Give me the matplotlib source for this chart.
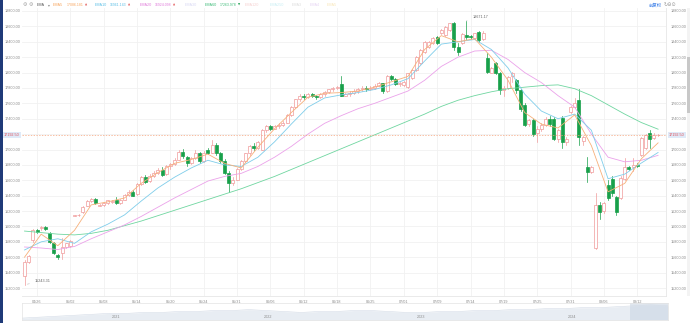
import matplotlib.pyplot as plt
from matplotlib.patches import Rectangle

plt.rcParams['font.family'] = ['Liberation Sans', 'DejaVu Sans', 'Noto Sans CJK SC']

W, H = 691, 323

# candle data, one entry per bar
opens = [15355, 15537, 15823, 15950, 15975, 15990, 15914, 15785, 15630, 15655,
         15733, 15740, 16140, 16150, 16185, 16265, 16330, 16355, 16270, 16280,
         16300, 16320, 16350, 16300, 16350, 16410, 16450, 16420, 16550, 16640,
         16590, 16660, 16700, 16740, 16680, 16790, 16810, 16870, 16970, 16900,
         16830, 16890, 16960, 16850, 16990, 16960, 17060, 16950, 16850, 16700,
         16560, 16610, 16750, 16850, 16950, 17050, 17020, 17000, 17250, 17300,
         17270, 17300, 17320, 17350, 17450, 17550, 17650, 17700, 17680, 17720,
         17700, 17680, 17720, 17750, 17780, 17800, 17850, 17700, 17720, 17740,
         17760, 17780, 17800, 17780, 17800, 17830, 17860, 17760, 17950, 17920,
         17850, 17838, 17812, 17930, 18033, 18124, 18267, 18332, 18384, 18462,
         18514, 18488, 18553, 18644, 18332, 18384, 18488, 18470, 18450, 18527,
         18430, 18190, 18000, 18124, 17994, 17773, 17800, 17950, 17900, 17770,
         17580, 17330, 17380, 17220, 17260, 17320, 17400, 17400, 17130, 17409,
         17097, 17487, 17550, 17643, 17110, 16772, 16707, 15719, 16278, 16200,
         16540, 16615, 16385, 16370, 16615, 16772, 16770, 16800, 16930, 17020,
         17215, 17150, 17190]
highs = [15560, 15630, 15970, 15965, 16010, 16000, 15930, 15800, 15640, 15850,
         15790, 15820, 16150, 16160, 16260, 16340, 16370, 16370, 16290, 16320,
         16345, 16340, 16380, 16360, 16420, 16470, 16480, 16560, 16660, 16670,
         16680, 16720, 16760, 16770, 16800, 16830, 16890, 16990, 17010, 16920,
         16900, 16990, 16970, 16980, 17020, 17120, 17080, 16970, 16880, 16720,
         16640, 16760, 16860, 16960, 17060, 17090, 17110, 17270, 17320, 17320,
         17320, 17340, 17370, 17460, 17560, 17660, 17720, 17720, 17740, 17730,
         17710, 17730, 17760, 17790, 17810, 17820, 17950, 17740, 17760, 17780,
         17800, 17820, 17820, 17820, 17850, 17880, 17870, 17970, 17970, 17930,
         17880, 17890, 18000, 18050, 18215, 18300, 18410, 18410, 18460, 18480,
         18570, 18600, 18650, 18660, 18384, 18520, 18671.17, 18490, 18520, 18540,
         18540, 18260, 18070, 18140, 18010, 17820, 17960, 18010, 17920, 17790,
         17600, 17400, 17400, 17300, 17340, 17420, 17430, 17420, 17260, 17430,
         17160, 17560, 17669, 17786, 17180, 16902, 16790, 16434, 16317, 16320,
         16600, 16650, 16400, 16650, 16889, 16790, 16889, 16820, 17160, 17200,
         17253, 17210, 17200]
lows = [15243.31, 15520, 15800, 15910, 15960, 15950, 15780, 15640, 15580, 15580,
        15720, 15730, 16130, 16140, 16180, 16260, 16320, 16290, 16260, 16270,
        16290, 16310, 16290, 16290, 16340, 16400, 16390, 16410, 16540, 16560,
        16580, 16640, 16680, 16650, 16670, 16750, 16800, 16860, 16890, 16790,
        16810, 16880, 16830, 16840, 16940, 16950, 16930, 16830, 16680, 16450,
        16540, 16600, 16740, 16840, 16930, 16990, 17010, 16990, 17230, 17250,
        17260, 17280, 17300, 17340, 17440, 17540, 17630, 17660, 17670, 17680,
        17660, 17670, 17700, 17730, 17760, 17780, 17690, 17690, 17700, 17720,
        17740, 17760, 17760, 17770, 17790, 17820, 17740, 17750, 17900, 17840,
        17830, 17820, 17800, 17920, 18020, 18110, 18250, 18320, 18370, 18370,
        18500, 18470, 18540, 18293, 18228, 18370, 18440, 18440, 18440, 18400,
        18420, 17990, 17990, 17980, 17720, 17700, 17790, 17880, 17740, 17500,
        17300, 17300, 17180, 17100, 17240, 17310, 17300, 17120, 17100, 17020,
        17060, 17470, 17540, 17058, 17058, 16577, 16690, 15706, 16096, 16180,
        16340, 16400, 16150, 16360, 16600, 16730, 16720, 16770, 16920, 17010,
        17019, 17130, 17170]
closes = [15537, 15615, 15953, 15925, 15990, 15965, 15797, 15655, 15600, 15733,
          15785, 15810, 16150, 16150, 16250, 16330, 16355, 16300, 16280, 16310,
          16340, 16330, 16300, 16350, 16410, 16450, 16400, 16550, 16640, 16580,
          16660, 16700, 16740, 16670, 16790, 16810, 16870, 16970, 16910, 16820,
          16890, 16960, 16850, 16960, 16960, 17060, 16950, 16850, 16700, 16560,
          16610, 16750, 16850, 16950, 17050, 17020, 17100, 17250, 17300, 17270,
          17300, 17320, 17350, 17450, 17550, 17650, 17700, 17680, 17720, 17700,
          17680, 17720, 17750, 17780, 17800, 17810, 17700, 17720, 17740, 17760,
          17780, 17800, 17780, 17800, 17830, 17860, 17760, 17950, 17920, 17850,
          17870, 17877, 17994, 18033, 18202, 18293, 18397, 18397, 18449, 18384,
          18553, 18592, 18644, 18332, 18267, 18501, 18462, 18460, 18510, 18423,
          18520, 18007, 18060, 17994, 17773, 17800, 17940, 17990, 17770, 17520,
          17320, 17380, 17200, 17260, 17320, 17400, 17330, 17130, 17250, 17097,
          17136, 17550, 17600, 17162, 17162, 16707, 16772, 16278, 16187, 16300,
          16370, 16430, 16187, 16630, 16770, 16745, 16800, 16785, 17150, 17190,
          17135, 17190, 17192.50]

# moving averages, read every 4th bar
ema_idx = list(range(0, 153, 4))
ema5 = [15600, 15900, 15750, 15950, 16280, 16320, 16370, 16560, 16700, 16820,
        16870, 16940, 16820, 16760, 17030, 17270, 17480, 17680, 17730, 17740,
        17760, 17810, 17880, 17950, 18300, 18480, 18400, 18440, 18200, 17900,
        17480, 17330, 17280, 17450, 17050, 16450, 16560, 16880, 17086.181]
ema10 = [15694, 15800, 15840, 15780, 15930, 16030, 16150, 16330, 16500, 16640,
         16760, 16860, 16800, 16780, 16900, 17100, 17330, 17550, 17670, 17710,
         17740, 17780, 17840, 17920, 18150, 18370, 18400, 18430, 18300, 18060,
         17720, 17500, 17400, 17460, 17250, 16620, 16680, 16825, 16961.143]
ema20 = [15733, 15720, 15700, 15740, 15840, 15930, 16020, 16130, 16250, 16370,
         16480, 16590, 16650, 16690, 16780, 16900, 17040, 17200, 17340, 17440,
         17530, 17600, 17680, 17760, 17900, 18080, 18200, 18280, 18290, 18170,
         18000, 17870, 17700, 17550, 17200, 16900, 16840, 16860, 16924.098]
ema60 = [15940, 15920, 15900, 15890, 15910, 15950, 16010, 16070, 16140, 16210,
         16280, 16350, 16420, 16490, 16570, 16650, 16740, 16830, 16920, 17010,
         17100, 17190, 17280, 17370, 17460, 17560, 17640, 17700, 17750, 17790,
         17810, 17830, 17840, 17790, 17700, 17580, 17460, 17350, 17263.978]

date_labels = ['04/26', '05/02', '05/08', '05/14', '05/20', '05/24', '05/31', '06/06', '06/12', '06/18',
               '06/25', '07/01', '07/09', '07/14', '07/19', '07/25', '07/31', '08/06', '08/12']
price_ticks = list(range(15200, 18801, 200))
last_price = closes[-1]
high_val, low_val = max(highs), min(lows)

# long history for the navigator strip
nav_hist = [2, 3, 4, 5, 6, 7, 7, 8, 8, 9, 9, 10, 10, 11, 10, 9, 8, 9, 9, 10, 10, 9, 8, 8, 9, 9, 10, 10, 11, 11, 12, 12, 13, 13, 14, 15, 16, 15]
year_labels = ['2021', '2022', '2023', '2024']
year_x = [116, 268, 421, 572]

up_col = '#f09a9a'
down_col = '#18a04a'
lab_col = '#8a8a8a'
fs = 2.7


def px_box(x0, y0, x1, y1):
    return [x0 / W, 1 - y1 / H, (x1 - x0) / W, (y1 - y0) / H]


fig = plt.figure(figsize=(W / 100, H / 100), dpi=100)
fig.patch.set_facecolor('white')

ax = fig.add_axes(px_box(22, 8, 666, 296))
ax.set_xlim(-0.6, 153.9)
ax.set_ylim(15200 - 8 * 200 / 15.39, 18800 + 3 * 200 / 15.39)

for s in ['top', 'left']:
    ax.spines[s].set_visible(False)
for s in ['bottom', 'right']:
    ax.spines[s].set_color('#e6e6e6')
    ax.spines[s].set_linewidth(0.6)

tick_pos = [3 + 8 * k for k in range(len(date_labels))]
ax.set_xticks(tick_pos)
ax.set_xticklabels(date_labels)
ax.set_yticks(price_ticks)
# the level under the last-price tag is left blank, the tag covers it
ax.set_yticklabels(['' if abs(v - last_price) < 100 else '%.2f' % v for v in price_ticks])
ax.tick_params(axis='y', length=0, labelsize=fs, colors=lab_col, labelleft=True, labelright=True, pad=1.2)
ax.tick_params(axis='x', length=0, labelsize=fs, colors=lab_col, pad=3)
ax.grid(True, color='#f1f1f1', linewidth=0.6)
ax.set_axisbelow(True)
for tk in ax.yaxis.get_major_ticks():
    tk.label2.set_x(1.0 + 3 / 644)

# candles: hollow red when up, solid green when down
bw = 0.72
for i in range(len(closes)):
    o, h, l, c = opens[i], highs[i], lows[i], closes[i]
    col = up_col if c >= o else down_col
    ax.plot([i, i], [l, h], color=col, linewidth=0.5, zorder=3)
    lo, hi = min(o, c), max(o, c)
    face = 'white' if c >= o else col
    ax.add_patch(Rectangle((i - bw / 2, lo), bw, max(hi - lo, 4), facecolor=face, edgecolor=col, linewidth=0.5, zorder=4))

ax.plot(ema_idx, ema60, color='#6fd6a0', linewidth=0.6, zorder=5)
ax.plot(ema_idx, ema20, color='#eba2ea', linewidth=0.6, zorder=5)
ax.plot(ema_idx, ema10, color='#7fcdea', linewidth=0.6, zorder=5)
ax.plot(ema_idx, ema5, color='#f7b07a', linewidth=0.6, zorder=5)

ax.axhline(last_price, color='#f5a27a', linewidth=0.5, linestyle=(0, (2, 2)), zorder=6)

# high / low markers
hi_i = highs.index(high_val)
lo_i = lows.index(low_val)
ax.annotate('%.2f' % high_val, xy=(hi_i, high_val), xytext=(hi_i + 1.5, high_val + 25), fontsize=fs, color='#666666',
            va='bottom', arrowprops=dict(arrowstyle='-', color='#bbbbbb', linewidth=0.4))
ax.annotate('%.2f' % low_val, xy=(lo_i, low_val), xytext=(lo_i + 2.5, low_val + 45), fontsize=fs, color='#666666',
            va='center', arrowprops=dict(arrowstyle='-', color='#bbbbbb', linewidth=0.4))

# price tags on both axes
y_last = 1 - (135 / H)
for xp in [4, 669]:
    fig.text(xp / W, y_last, '%.2f' % last_price, fontsize=fs, color='#e0505a', ha='left', va='center',
             bbox=dict(boxstyle='square,pad=0.3', facecolor='#dfeaf8', edgecolor='none'))

# left accent bar
fig.patches.append(Rectangle((0, 0), 3 / W, 1, transform=fig.transFigure, facecolor='#1f3a78', edgecolor='none'))

# scrollbar on the right
fig.patches.append(Rectangle((687 / W, 1 - 296 / H), 3 / W, 288 / H, transform=fig.transFigure, facecolor='#f3f3f3', edgecolor='none'))
fig.patches.append(Rectangle((687 / W, 1 - 113 / H), 3 / W, 56 / H, transform=fig.transFigure, facecolor='#c8c8c8', edgecolor='none'))

# legend row
ty = 1 - 5 / H
fig.text(23 / W, ty, '⚙', fontsize=3.6, color='#a0a0a0', va='center', family='DejaVu Sans')
fig.text(29 / W, ty, '⚙', fontsize=3.6, color='#a0a0a0', va='center', family='DejaVu Sans')
fig.text(37 / W, ty, 'EMA', fontsize=fs, color='#555555', va='center')
fig.text(47.5 / W, ty, '▾', fontsize=fs, color='#888888', va='center', family='DejaVu Sans')
legend_items = [(53, 'EMA5', ema5[-1], '#f7a45c', '▲', '#e05050'),
                (95, 'EMA10', ema10[-1], '#5bbfe6', '▲', '#e05050'),
                (140, 'EMA20', ema20[-1], '#e07ada', '▲', '#e05050'),
                (185, 'EMA30', None, '#d8d8f4', '', ''),
                (205, 'EMA60', ema60[-1], '#3dbb78', '▼', '#20a050'),
                (245, 'EMA120', None, '#f6d0d0', '', ''),
                (270, 'EMA250', None, '#c8eef4', '', ''),
                (292, 'EMA3', None, '#dcdcdc', '', ''),
                (310, 'EMA4', None, '#e6d4f4', '', ''),
                (327, 'EMA5', None, '#f8e6b8', '', '')]
for xp, name, val, col, arrow, acol in legend_items:
    fig.text(xp / W, ty, name, fontsize=fs, color=col, va='center')
    if val is not None:
        off = 14 if len(name) == 4 else 15
        fig.text((xp + off) / W, ty, '%.3f' % val, fontsize=2.5, color=col, va='center')
        fig.text((xp + off + 17.5) / W, ty, arrow, fontsize=2.0, color=acol, va='center', family='DejaVu Sans')

fig.text(649 / W, ty, '前复权', fontsize=3.2, color='#3a7ee8', va='center', family=['Noto Sans CJK SC', 'DejaVu Sans'])
fig.text(664 / W, ty, '↻⊖⊙', fontsize=3.6, color='#9a9a9a', va='center', family='DejaVu Sans')

# navigator
nav = fig.add_axes(px_box(22, 303, 668, 320))
xs = range(len(nav_hist))
nav.fill_between(xs, nav_hist, 0, color='#e8edf3', linewidth=0)
nav.plot(xs, nav_hist, color='#d3dbe6', linewidth=0.4)
nav.set_xlim(0, len(nav_hist) - 1)
nav.set_ylim(0, 18)
nav.axvspan(len(nav_hist) - 3.2, len(nav_hist) - 1, color='#cbd6e4', alpha=0.6, linewidth=0)
nav.set_xticks([])
nav.set_yticks([])
for s in nav.spines.values():
    s.set_color('#e3e3e3')
    s.set_linewidth(0.5)
for yl, xp in zip(year_labels, year_x):
    fig.text(xp / W, 1 - 317 / H, yl, fontsize=fs, color=lab_col, ha='center', va='center')

fig.savefig('out.png', dpi=100)
